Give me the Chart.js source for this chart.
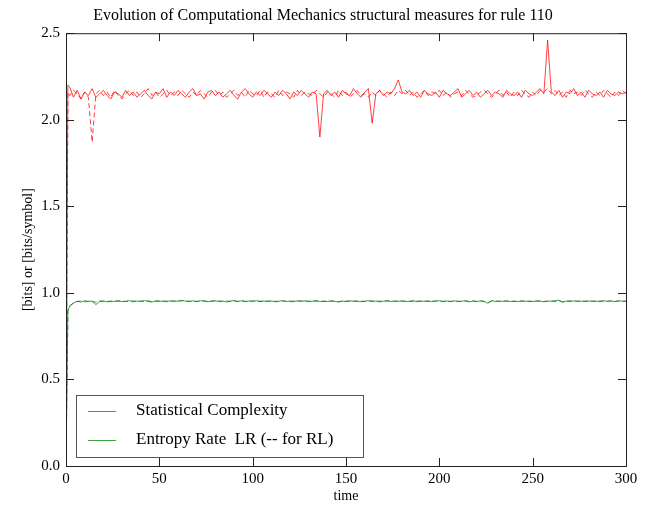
<!DOCTYPE html>
<html>
<head>
<meta charset="utf-8">
<script src="https://cdn.jsdelivr.net/npm/chart.js@4.4.0/dist/chart.umd.min.js"></script>
<style>
    html, body { margin: 0; padding: 0; background: #fff; }
    #contenedor { width: 645px; height: 505px; }
</style>
</head>
<body>
<div id="contenedor"><canvas id="line-chart"></canvas></div>
<script>
// tiempo: 0, 1, 2, 4, 6, ..., 300
var tiempo = [0, 1];
for (var i = 1; i <= 150; i++) {
    tiempo.push(i * 2);
}

var ticksX = [0, 50, 100, 150, 200, 250, 300];
var ticksY = [0.0, 0.5, 1.0, 1.5, 2.0, 2.5];

// complejidad estadistica, izquierda a derecha
var complejidadLR = [
    0, 2.20, 2.19, 2.13, 2.17, 2.12, 2.16, 2.14, 2.18, 2.13, 2.15,
    2.17, 2.14, 2.12, 2.16, 2.15, 2.13, 2.17, 2.14, 2.16, 2.13,
    2.15, 2.17, 2.14, 2.12, 2.16, 2.15, 2.18, 2.13, 2.16, 2.14,
    2.17, 2.15, 2.13, 2.16, 2.18, 2.14, 2.15, 2.12, 2.16, 2.17,
    2.14, 2.16, 2.13, 2.15, 2.17, 2.14, 2.12, 2.16, 2.18, 2.15,
    2.13, 2.16, 2.14, 2.17, 2.15, 2.13, 2.16, 2.14, 2.17, 2.15,
    2.12, 2.16, 2.14, 2.17, 2.15, 2.13, 2.16, 2.15, 1.90, 2.15,
    2.17, 2.14, 2.16, 2.13, 2.17, 2.15, 2.14, 2.18, 2.15, 2.13,
    2.16, 2.18, 1.98, 2.15, 2.17, 2.14, 2.16, 2.15, 2.18, 2.23,
    2.16, 2.15, 2.17, 2.14, 2.16, 2.13, 2.17, 2.15, 2.14, 2.16,
    2.13, 2.17, 2.15, 2.14, 2.16, 2.18, 2.13, 2.15, 2.17, 2.14,
    2.16, 2.13, 2.15, 2.17, 2.14, 2.16, 2.15, 2.13, 2.17, 2.15,
    2.14, 2.16, 2.13, 2.17, 2.15, 2.14, 2.16, 2.18, 2.15, 2.46,
    2.16, 2.14, 2.17, 2.13, 2.16, 2.15, 2.18, 2.14, 2.16, 2.13,
    2.17, 2.15, 2.14, 2.16, 2.13, 2.17, 2.15, 2.14, 2.16, 2.15,
    2.16
];

// complejidad estadistica, derecha a izquierda
var complejidadRL = [
    0, 2.16, 2.14, 2.17, 2.15, 2.12, 2.16, 2.13, 1.87, 2.15, 2.17,
    2.14, 2.16, 2.13, 2.17, 2.14, 2.12, 2.15, 2.17, 2.14, 2.16,
    2.13, 2.15, 2.18, 2.14, 2.16, 2.13, 2.15, 2.17, 2.14, 2.16,
    2.14, 2.17, 2.15, 2.13, 2.16, 2.14, 2.17, 2.15, 2.13, 2.16,
    2.17, 2.14, 2.16, 2.13, 2.15, 2.17, 2.14, 2.16, 2.13, 2.17,
    2.15, 2.14, 2.17, 2.13, 2.16, 2.15, 2.13, 2.17, 2.14, 2.16,
    2.15, 2.13, 2.17, 2.14, 2.16, 2.15, 2.14, 2.17, 2.15, 2.13,
    2.16, 2.15, 2.13, 2.17, 2.14, 2.16, 2.13, 2.15, 2.17, 2.14,
    2.15, 2.13, 2.16, 2.14, 2.17, 2.15, 2.13, 2.16, 2.14, 2.17,
    2.15, 2.17, 2.14, 2.16, 2.13, 2.15, 2.17, 2.14, 2.16, 2.15,
    2.17, 2.14, 2.16, 2.13, 2.15, 2.16, 2.14, 2.17, 2.15, 2.13,
    2.14, 2.16, 2.17, 2.15, 2.13, 2.15, 2.17, 2.14, 2.16, 2.13,
    2.16, 2.14, 2.17, 2.15, 2.13, 2.16, 2.14, 2.17, 2.16, 2.18,
    2.15, 2.17, 2.14, 2.16, 2.13, 2.17, 2.15, 2.16, 2.14, 2.17,
    2.15, 2.13, 2.16, 2.14, 2.17, 2.15, 2.13, 2.16, 2.14, 2.17,
    2.15
];

// tasa de entropia, izquierda a derecha
var entropiaLR = [
    0, 0.895, 0.925, 0.940, 0.952, 0.947, 0.955, 0.950, 0.953, 0.932, 0.951,
    0.954, 0.948, 0.953, 0.950, 0.956, 0.949, 0.952, 0.955, 0.948, 0.953,
    0.950, 0.956, 0.951, 0.947, 0.954, 0.950, 0.953, 0.949, 0.955, 0.951,
    0.953, 0.957, 0.952, 0.950, 0.954, 0.951, 0.955, 0.953, 0.949, 0.952,
    0.955, 0.950, 0.953, 0.948, 0.952, 0.956, 0.951, 0.954, 0.950, 0.953,
    0.951, 0.955, 0.949, 0.953, 0.950, 0.954, 0.948, 0.952, 0.955, 0.950,
    0.953, 0.949, 0.955, 0.951, 0.954, 0.950, 0.952, 0.956, 0.949, 0.953,
    0.950, 0.954, 0.951, 0.947, 0.953, 0.950, 0.955, 0.951, 0.953, 0.949,
    0.952, 0.955, 0.950, 0.953, 0.948, 0.952, 0.956, 0.950, 0.953, 0.951,
    0.954, 0.950, 0.952, 0.955, 0.949, 0.953, 0.951, 0.954, 0.950, 0.952,
    0.955, 0.951, 0.953, 0.949, 0.954, 0.950, 0.952, 0.955, 0.948, 0.953,
    0.950, 0.954, 0.951, 0.940, 0.956, 0.950, 0.953, 0.951, 0.954, 0.950,
    0.953, 0.949, 0.955, 0.951, 0.953, 0.950, 0.954, 0.952, 0.949, 0.953,
    0.951, 0.955, 0.958, 0.946, 0.953, 0.950, 0.954, 0.951, 0.953, 0.950,
    0.954, 0.951, 0.953, 0.949, 0.955, 0.951, 0.953, 0.950, 0.954, 0.952,
    0.951
];

// tasa de entropia, derecha a izquierda
var entropiaRL = [
    0, 0.900, 0.920, 0.945, 0.950, 0.953, 0.948, 0.952, 0.950, 0.946, 0.953,
    0.950, 0.953, 0.949, 0.954, 0.951, 0.953, 0.950, 0.952, 0.954, 0.950,
    0.953, 0.951, 0.954, 0.950, 0.952, 0.955, 0.951, 0.953, 0.950, 0.954,
    0.951, 0.954, 0.956, 0.951, 0.953, 0.950, 0.952, 0.954, 0.951, 0.953,
    0.952, 0.954, 0.950, 0.953, 0.951, 0.953, 0.950, 0.955, 0.951, 0.952,
    0.954, 0.950, 0.953, 0.951, 0.954, 0.950, 0.952, 0.950, 0.953, 0.951,
    0.950, 0.953, 0.951, 0.954, 0.950, 0.953, 0.951, 0.952, 0.954, 0.950,
    0.953, 0.951, 0.954, 0.950, 0.952, 0.953, 0.950, 0.954, 0.951, 0.953,
    0.950, 0.952, 0.954, 0.951, 0.953, 0.950, 0.952, 0.954, 0.951, 0.953,
    0.951, 0.953, 0.950, 0.952, 0.954, 0.951, 0.953, 0.950, 0.952, 0.954,
    0.952, 0.950, 0.954, 0.951, 0.953, 0.952, 0.950, 0.953, 0.951, 0.954,
    0.951, 0.953, 0.950, 0.944, 0.952, 0.954, 0.950, 0.953, 0.951, 0.953,
    0.950, 0.953, 0.951, 0.954, 0.950, 0.952, 0.951, 0.954, 0.950, 0.952,
    0.953, 0.950, 0.954, 0.949, 0.952, 0.954, 0.951, 0.953, 0.950, 0.953,
    0.951, 0.953, 0.950, 0.954, 0.951, 0.952, 0.954, 0.950, 0.953, 0.952,
    0.953
];

var fuente = "'Liberation Serif', 'DejaVu Serif', serif";
var rojo = 'rgba(255, 0, 0, 0.75)';
var verde = 'rgba(0, 128, 0, 0.75)';

function puntos(serie) {
    var lista = [];
    for (var i = 0; i < serie.length; i++) {
        lista.push({ x: tiempo[i], y: serie[i] });
    }
    return lista;
}

// marco, ticks hacia adentro y leyenda dentro del area
var marcoPlugin = {
    id: 'marco',
    afterDraw: function (chart) {
        var ctx = chart.ctx;
        var a = chart.chartArea;
        var sx = chart.scales.x;
        var sy = chart.scales.y;
        ctx.save();
        ctx.strokeStyle = '#222';
        ctx.lineWidth = 1;
        ctx.strokeRect(a.left + 0.5, a.top + 0.5, a.right - a.left, a.bottom - a.top);
        ctx.beginPath();
        for (var i in ticksX) {
            var px = Math.round(sx.getPixelForValue(ticksX[i])) + 0.5;
            ctx.moveTo(px, a.bottom);
            ctx.lineTo(px, a.bottom - 8);
            ctx.moveTo(px, a.top);
            ctx.lineTo(px, a.top + 8);
        }
        for (var j in ticksY) {
            var py = Math.round(sy.getPixelForValue(ticksY[j])) + 0.5;
            ctx.moveTo(a.left, py);
            ctx.lineTo(a.left + 8, py);
            ctx.moveTo(a.right, py);
            ctx.lineTo(a.right - 8, py);
        }
        ctx.stroke();

        // leyenda
        var lx = a.left + 10, ly = 395, lw = 287, lh = 62;
        ctx.fillStyle = '#fff';
        ctx.fillRect(lx, ly, lw, lh);
        ctx.strokeStyle = '#555';
        ctx.strokeRect(lx + 0.5, ly + 0.5, lw, lh);
        var entradas = chart.data.datasets.filter(function (d) { return d.label; });
        ctx.font = '17px ' + fuente;
        ctx.textBaseline = 'middle';
        for (var k = 0; k < entradas.length; k++) {
            var yy = ly + 16 + k * 29;
            ctx.strokeStyle = entradas[k].borderColor;
            ctx.beginPath();
            ctx.moveTo(lx + 12, yy + 0.5);
            ctx.lineTo(lx + 40, yy + 0.5);
            ctx.stroke();
            ctx.fillStyle = '#000';
            ctx.fillText(entradas[k].label, lx + 60, yy);
        }
        ctx.restore();
    }
};

new Chart(document.getElementById('line-chart'), {
    type: 'line',
    data: {
        datasets: [
            { label: 'Statistical Complexity', data: puntos(complejidadLR), borderColor: rojo, borderWidth: 1, pointRadius: 0, tension: 0 },
            { label: '', data: puntos(complejidadRL), borderColor: rojo, borderWidth: 1, borderDash: [5, 3], pointRadius: 0, tension: 0 },
            { label: 'Entropy Rate  LR (-- for RL)', data: puntos(entropiaLR), borderColor: verde, borderWidth: 1, pointRadius: 0, tension: 0 },
            { label: '', data: puntos(entropiaRL), borderColor: verde, borderWidth: 1, borderDash: [5, 3], pointRadius: 0, tension: 0 }
        ]
    },
    options: {
        responsive: true,
        maintainAspectRatio: false,
        animation: false,
        layout: { padding: { left: 20, right: 19, top: 0, bottom: 0 } },
        plugins: {
            legend: { display: false },
            tooltip: { enabled: false },
            title: {
                display: true,
                text: 'Evolution of Computational Mechanics structural measures for rule 110',
                color: '#000',
                font: { family: fuente, size: 16, weight: 'normal' },
                padding: { top: 6, bottom: 8 }
            }
        },
        scales: {
            x: {
                type: 'linear',
                min: 0,
                max: 300,
                afterFit: function (s) { s.height = 39; },
                afterBuildTicks: function (s) { s.ticks = ticksX.map(function (v) { return { value: v }; }); },
                grid: { display: false, drawTicks: false, tickLength: 0 },
                border: { display: false },
                ticks: { color: '#000', padding: 4, maxRotation: 0, font: { family: fuente, size: 15 } },
                title: { display: true, text: 'time', color: '#000', padding: { top: 0, bottom: 0 }, font: { family: fuente, size: 14 } }
            },
            y: {
                min: 0,
                max: 2.5,
                afterFit: function (s) { s.width = 46; },
                afterBuildTicks: function (s) { s.ticks = ticksY.map(function (v) { return { value: v }; }); },
                grid: { display: false, drawTicks: false, tickLength: 0 },
                border: { display: false },
                ticks: {
                    color: '#000', padding: 6, font: { family: fuente, size: 15 },
                    callback: function (v) { return Number(v).toFixed(1); }
                },
                title: { display: true, text: '[bits] or [bits/symbol]', color: '#000', padding: { top: 0, bottom: 0 }, font: { family: fuente, size: 14 } }
            }
        }
    },
    plugins: [marcoPlugin]
});
</script>
</body>
</html>
